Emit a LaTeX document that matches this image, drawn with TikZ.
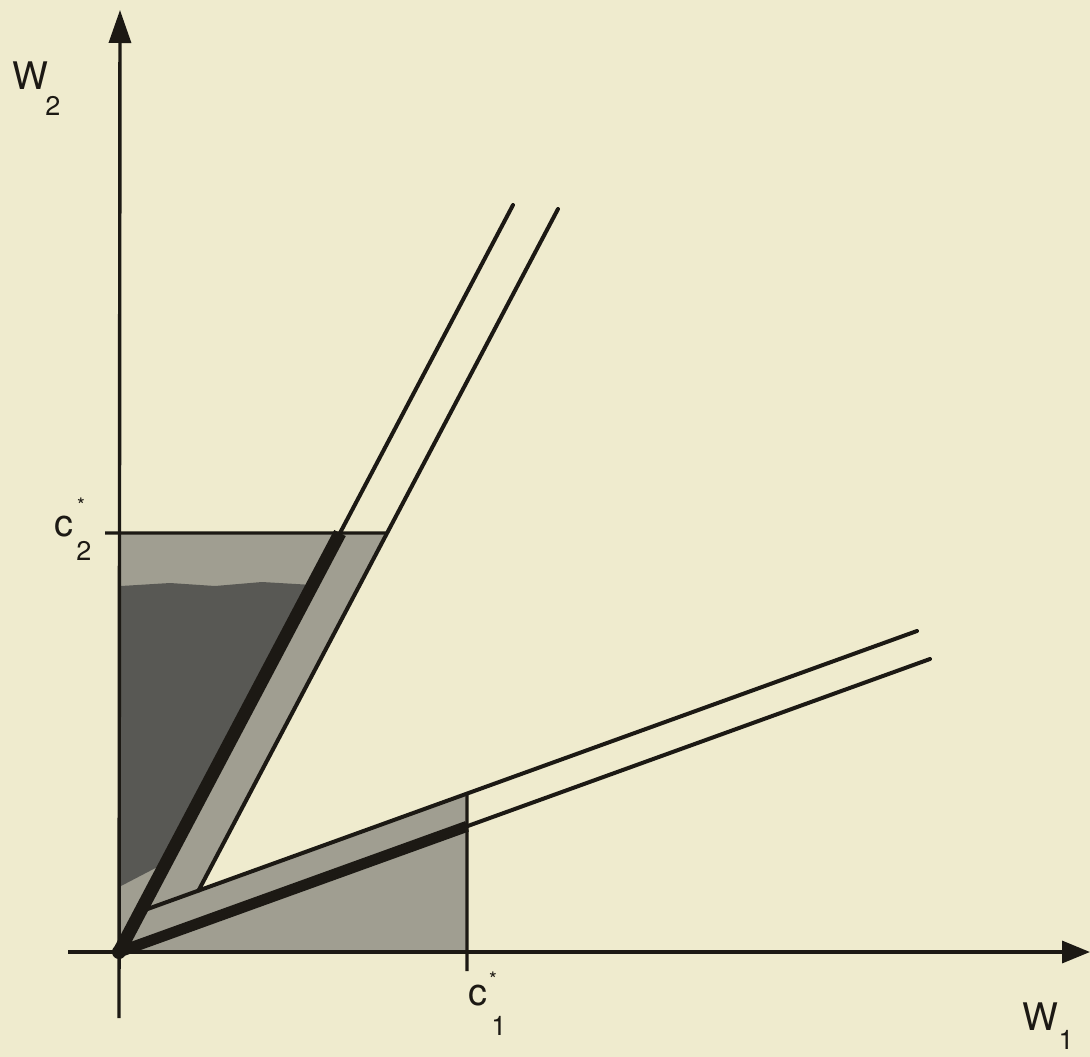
\documentclass[tikz,border=0pt]{standalone}
\usepackage{fontspec}
\setmainfont{TeX Gyre Heros}
\usetikzlibrary{arrows.meta,calc}
\definecolor{bg}{RGB}{239,235,206}
\definecolor{ink}{RGB}{28,25,20}
\definecolor{lightst}{RGB}{160,158,145}
\definecolor{darkst}{RGB}{88,88,84}
\begin{document}
\begin{tikzpicture}[x=1pt,y=-1pt,
  thinln/.style={draw=ink,line width=4pt,line cap=round},
  thickln/.style={draw=ink,line width=13pt},
  axisln/.style={draw=ink,line width=3.4pt},
  lab/.style={inner sep=0pt,text=ink,font=\fontsize{38}{40}\selectfont},
  sublab/.style={inner sep=0pt,text=ink,font=\fontsize{27}{29}\selectfont},
  starlab/.style={inner sep=0pt,text=ink,font=\fontsize{20}{22}\selectfont}]
\useasboundingbox (0,0) rectangle (1090,1057);
\fill[bg] (0,0) rectangle (1090,1057);
% key points
\coordinate (O) at (119,952);
\coordinate (Ytip) at (120,10);
\coordinate (Ybot) at (119,1018);
\coordinate (Xleft) at (68,952);
\coordinate (Xtip) at (1090,952);
\coordinate (U1) at (513,205);
\coordinate (U2) at (558,209);
\coordinate (L1) at (930,659);
\coordinate (L2) at (917,631);
\coordinate (C2a) at (105,533);
\coordinate (H1) at (0,533);
\coordinate (H2) at (1000,533);
\coordinate (K1) at (467,0);
\coordinate (K2) at (467,1057);
\coordinate (C1b) at (467,971);
\coordinate (C1f) at (467,952);
\coordinate (AxTop) at (119,533);
\coordinate (U2b) at ($(U2)-(U1)+(O)$);
\coordinate (L2b) at ($(L2)-(L1)+(O)$);
\coordinate (P) at (intersection of U2--U2b and L2--L2b);
\coordinate (Ut) at (intersection of O--U1 and H1--H2);
\coordinate (Ur) at (intersection of U2--U2b and H1--H2);
\coordinate (V) at (intersection of O--L1 and K1--K2);
\coordinate (Vt) at (intersection of L2--L2b and K1--K2);
\coordinate (Q) at (intersection of L2--L2b and O--U1);
% shaded regions
\fill[lightst] (O) -- (AxTop) -- (Ur) -- (P) -- (Vt) -- (C1f) -- cycle;
\fill[darkst] (121,586) -- (170,583) -- (215,586) -- (262,582) -- (313,585)
  -- (167,862) -- (121,886) -- cycle;
% wedge lines
\draw[thinln] (O) -- (U1);
\draw[thinln] (O) -- (L1);
\draw[thickln] (O) -- (Ut);
\draw[thickln,line width=11pt] (O) -- (V);
\draw[thinln] (P) -- (U2);
\draw[thinln] (Q) -- (L2);
\fill[ink] (O) circle (7pt);
% levels
\draw[axisln] (C2a) -- (Ur);
\draw[axisln] (Vt) -- (C1b);
% axes
\draw[axisln,-{Triangle[length=33pt,width=22pt]}] (Ybot) -- (Ytip);
\draw[axisln,-{Triangle[length=28pt,width=22pt]}] (Xleft) -- (Xtip);
% labels
\node[lab] (W2) at (30,76) {W};
\node[sublab] (W2s) at (53,106) {2};
\node[lab] (c2) at (64,527) {c};
\node[starlab] (c2st) at (81,505) {*};
\node[sublab] (c2s) at (84,551) {2};
\node[lab] (c1) at (478,996) {c};
\node[starlab] (c1st) at (493,979) {*};
\node[sublab] (c1s) at (499,1026) {1};
\node[lab] (W1) at (1040,1017) {W};
\node[sublab] (W1s) at (1066,1040) {1};
\end{tikzpicture}
\end{document}
